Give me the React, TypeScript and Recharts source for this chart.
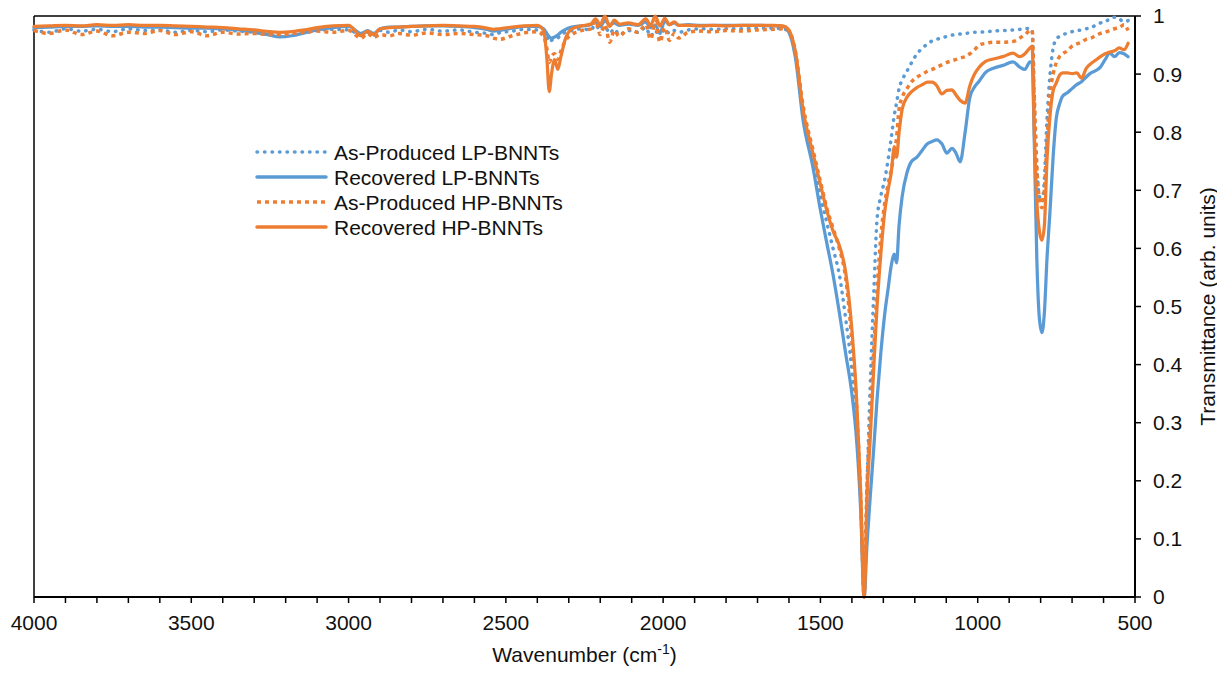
import { LineChart, Line, XAxis, YAxis, ReferenceLine, Legend, Label } from 'recharts'

// FTIR spectra, x in cm-1 (shared grid), y = transmittance (arb. units)
const wavenumbers = [
  4000, 3950, 3900, 3850, 3800, 3750, 3700, 3650, 3600, 3550,
  3500, 3450, 3400, 3350, 3300, 3250, 3220, 3180, 3140, 3100,
  3050, 3000, 2960, 2940, 2920, 2900, 2870, 2840, 2800, 2750,
  2700, 2650, 2600, 2560, 2540, 2520, 2480, 2440, 2400, 2380,
  2370, 2362, 2355, 2345, 2335, 2325, 2310, 2290, 2260, 2230,
  2215, 2200, 2185, 2170, 2155, 2140, 2110, 2080, 2055, 2040,
  2025, 2010, 1995, 1980, 1965, 1950, 1920, 1880, 1840, 1800,
  1750, 1700, 1650, 1620, 1603, 1580, 1555, 1524, 1500, 1480,
  1460, 1440, 1420, 1400, 1385, 1372, 1361, 1352, 1342, 1330,
  1320, 1308, 1295, 1285, 1275, 1265, 1258, 1250, 1240, 1225,
  1210, 1193, 1175, 1160, 1145, 1130, 1114, 1098, 1082, 1070,
  1056, 1040, 1025, 1010, 995, 975, 950, 920, 888, 866,
  850, 834, 827, 820, 812, 804, 796, 788, 780, 770,
  760, 750, 740, 730, 715, 700, 685, 670, 655, 640,
  625, 610, 595, 580, 565, 550, 535, 522,
]

const asProducedLP = [
  0.976, 0.972, 0.978, 0.974, 0.977, 0.973, 0.978, 0.975, 0.976, 0.972,
  0.975, 0.973, 0.976, 0.974, 0.972, 0.968, 0.966, 0.968, 0.971, 0.975,
  0.977, 0.976, 0.968, 0.972, 0.967, 0.975, 0.972, 0.976, 0.973, 0.977,
  0.974, 0.976, 0.972, 0.970, 0.968, 0.971, 0.974, 0.977, 0.976, 0.972,
  0.965, 0.955, 0.958, 0.960, 0.962, 0.968, 0.972, 0.975, 0.978, 0.976,
  0.985, 0.975, 0.982, 0.970, 0.978, 0.968, 0.975, 0.972, 0.980, 0.965,
  0.975, 0.962, 0.978, 0.970, 0.975, 0.972, 0.976, 0.978, 0.977, 0.978,
  0.978, 0.979, 0.979, 0.978, 0.974, 0.935, 0.835, 0.750, 0.690, 0.645,
  0.600, 0.555, 0.480, 0.390, 0.290, 0.160, 0.010, 0.190, 0.360, 0.530,
  0.650, 0.690, 0.720, 0.752, 0.790, 0.830, 0.850, 0.875, 0.890, 0.905,
  0.920, 0.935, 0.945, 0.952, 0.957, 0.960, 0.962, 0.965, 0.967, 0.968,
  0.969, 0.970, 0.971, 0.972, 0.972, 0.973, 0.974, 0.975, 0.976, 0.977,
  0.978, 0.979, 0.975, 0.850, 0.740, 0.690, 0.680, 0.720, 0.820, 0.900,
  0.945, 0.960, 0.965, 0.968, 0.970, 0.973, 0.975, 0.976, 0.978, 0.980,
  0.984, 0.988, 0.990, 0.995, 0.998, 0.995, 0.990, 0.992,
]

const recoveredLP = [
  0.980, 0.981, 0.982, 0.982, 0.983, 0.982, 0.982, 0.981, 0.981, 0.980,
  0.979, 0.979, 0.978, 0.976, 0.972, 0.967, 0.964, 0.966, 0.971, 0.976,
  0.980, 0.982, 0.970, 0.975, 0.970, 0.978, 0.981, 0.981, 0.982, 0.983,
  0.983, 0.982, 0.980, 0.977, 0.974, 0.975, 0.979, 0.982, 0.982, 0.978,
  0.970, 0.964, 0.962, 0.964, 0.967, 0.972, 0.977, 0.981, 0.983, 0.985,
  0.990, 0.982, 0.992, 0.985, 0.988, 0.984, 0.986, 0.984, 0.990, 0.980,
  0.984, 0.970, 0.992, 0.985, 0.988, 0.984, 0.985, 0.984, 0.984, 0.984,
  0.984, 0.984, 0.983, 0.982, 0.975, 0.930, 0.820, 0.740, 0.666, 0.610,
  0.555, 0.490, 0.420, 0.350, 0.270, 0.150, 0.000, 0.090, 0.170, 0.260,
  0.340, 0.420, 0.490, 0.530, 0.570, 0.590, 0.575, 0.640, 0.690, 0.730,
  0.750, 0.757, 0.770, 0.780, 0.784, 0.787, 0.780, 0.764, 0.772, 0.765,
  0.749, 0.800, 0.860, 0.878, 0.888, 0.903, 0.910, 0.915, 0.921, 0.912,
  0.908, 0.921, 0.920, 0.780, 0.580, 0.480, 0.455, 0.490, 0.580, 0.666,
  0.760, 0.825, 0.848, 0.862, 0.868, 0.875, 0.882, 0.887, 0.895, 0.902,
  0.906, 0.912, 0.925, 0.936, 0.930, 0.937, 0.935, 0.930,
]

const asProducedHP = [
  0.975, 0.970, 0.976, 0.968, 0.974, 0.966, 0.972, 0.970, 0.975, 0.968,
  0.973, 0.966, 0.972, 0.969, 0.970, 0.968, 0.968, 0.970, 0.972, 0.974,
  0.972, 0.975, 0.962, 0.970, 0.963, 0.968, 0.966, 0.970, 0.967, 0.971,
  0.968, 0.970, 0.968, 0.966, 0.962, 0.960, 0.966, 0.971, 0.973, 0.965,
  0.945, 0.920, 0.930, 0.935, 0.925, 0.940, 0.958, 0.968, 0.975, 0.978,
  0.992, 0.968, 0.985, 0.955, 0.975, 0.965, 0.978, 0.972, 0.985, 0.960,
  0.990, 0.955, 0.980, 0.958, 0.970, 0.962, 0.972, 0.974, 0.973, 0.975,
  0.974, 0.976, 0.977, 0.978, 0.976, 0.940, 0.845, 0.770, 0.715, 0.670,
  0.635, 0.600, 0.550, 0.440, 0.330, 0.170, 0.000, 0.190, 0.300, 0.430,
  0.530, 0.620, 0.680, 0.710, 0.735, 0.765, 0.790, 0.840, 0.860, 0.875,
  0.887, 0.895, 0.900, 0.905, 0.908, 0.912, 0.916, 0.920, 0.923, 0.925,
  0.928, 0.930, 0.935, 0.942, 0.950, 0.953, 0.955, 0.955, 0.956, 0.962,
  0.968, 0.975, 0.976, 0.860, 0.740, 0.685, 0.670, 0.700, 0.780, 0.865,
  0.900, 0.920, 0.930, 0.935, 0.940, 0.948, 0.952, 0.955, 0.960, 0.962,
  0.966, 0.970, 0.972, 0.975, 0.978, 0.980, 0.985, 0.975,
]

const recoveredHP = [
  0.982, 0.983, 0.984, 0.983, 0.985, 0.984, 0.985, 0.984, 0.984, 0.983,
  0.982, 0.981, 0.980, 0.978, 0.976, 0.973, 0.972, 0.973, 0.976, 0.980,
  0.983, 0.984, 0.966, 0.974, 0.968, 0.978, 0.980, 0.981, 0.982, 0.983,
  0.984, 0.983, 0.982, 0.979, 0.977, 0.978, 0.981, 0.983, 0.984, 0.975,
  0.930, 0.870, 0.900, 0.925, 0.908, 0.930, 0.962, 0.978, 0.983, 0.986,
  0.995, 0.985, 1.000, 0.982, 0.993, 0.986, 0.988, 0.985, 0.995, 0.984,
  1.000, 0.983, 0.996, 0.985, 0.990, 0.984, 0.984, 0.983, 0.984, 0.983,
  0.984, 0.984, 0.984, 0.983, 0.978, 0.940, 0.838, 0.764, 0.710, 0.666,
  0.630, 0.605, 0.560, 0.460, 0.340, 0.180, 0.000, 0.170, 0.270, 0.400,
  0.500, 0.590, 0.666, 0.700, 0.730, 0.775, 0.757, 0.800, 0.840, 0.860,
  0.870, 0.877, 0.882, 0.886, 0.886, 0.880, 0.866, 0.872, 0.873, 0.865,
  0.855, 0.850, 0.880, 0.900, 0.912, 0.922, 0.926, 0.930, 0.936, 0.930,
  0.935, 0.945, 0.948, 0.800, 0.680, 0.630, 0.614, 0.640, 0.750, 0.830,
  0.872, 0.885, 0.898, 0.902, 0.902, 0.901, 0.902, 0.893, 0.910, 0.918,
  0.924, 0.930, 0.935, 0.938, 0.940, 0.945, 0.942, 0.953,
]

const xTicks = [
  4000, 3900, 3800, 3700, 3600, 3500, 3400, 3300, 3200, 3100,
  3000, 2900, 2800, 2700, 2600, 2500, 2400, 2300, 2200, 2100,
  2000, 1900, 1800, 1700, 1600, 1500, 1400, 1300, 1200, 1100,
  1000, 900, 800, 700, 600, 500,
]
const yTicks = [0, 0.1, 0.2, 0.3, 0.4, 0.5, 0.6, 0.7, 0.8, 0.9, 1]

const BLUE = '#5B9BD5'
const ORANGE = '#ED7D31'
const FONT = '"Liberation Sans", Arial, sans-serif'
const INK = '#111'

const series = [
  { key: 'apLP', name: 'As-Produced LP-BNNTs', color: BLUE, dash: '0.5 7', cap: 'round' as const },
  { key: 'recLP', name: 'Recovered LP-BNNTs', color: BLUE, dash: undefined, cap: 'round' as const },
  { key: 'apHP', name: 'As-Produced HP-BNNTs', color: ORANGE, dash: '4 4', cap: 'butt' as const },
  { key: 'recHP', name: 'Recovered HP-BNNTs', color: ORANGE, dash: undefined, cap: 'round' as const },
]

const data = wavenumbers.map((wn, i) => ({
  wn,
  apLP: asProducedLP[i],
  recLP: recoveredLP[i],
  apHP: asProducedHP[i],
  recHP: recoveredHP[i],
}))

function LegendBox() {
  return (
    <svg width={340} height={105} style={{ display: 'block' }}>
      {series.map((s, i) => {
        const y = 13 + i * 25
        return (
          <g key={s.key}>
            <line
              x1={2}
              x2={71}
              y1={y}
              y2={y}
              stroke={s.color}
              strokeWidth={3.5}
              strokeDasharray={s.dash}
              strokeLinecap={s.cap}
            />
            <text x={79} y={y} dominantBaseline="central" fontSize={21} fontFamily={FONT} fill={INK}>
              {s.name}
            </text>
          </g>
        )
      })}
    </svg>
  )
}

function XTitle(props: any) {
  const vb = props.viewBox
  const cx = vb.x + vb.width / 2
  return (
    <text x={cx} y={vb.y + 65} textAnchor="middle" fontSize={21} fontFamily={FONT} fill={INK}>
      Wavenumber (cm
      <tspan dy={-8} fontSize={14}>-1</tspan>
      <tspan dy={8}>)</tspan>
    </text>
  )
}

function YTitle(props: any) {
  const vb = props.viewBox
  const cx = vb.x + 72
  const cy = vb.y + vb.height / 2
  return (
    <text
      x={cx}
      y={cy}
      transform={`rotate(-90 ${cx} ${cy})`}
      textAnchor="middle"
      dominantBaseline="central"
      fontSize={21}
      fontFamily={FONT}
      fill={INK}
    >
      Transmittance (arb. units)
    </text>
  )
}

export default function App() {
  // cancel the body margin so the svg covers the whole window
  return (
    <div style={{ width: 1225, height: 673, margin: '-8px 0 0 -8px', fontFamily: FONT }}>
      <LineChart
        width={1225}
        height={673}
        data={data}
        margin={{ top: 16, right: 0, bottom: 16, left: 34 }}
      >
        <XAxis
          dataKey="wn"
          type="number"
          domain={[500, 4000]}
          reversed
          ticks={xTicks}
          interval={0}
          tickFormatter={(v: number) => (v % 500 === 0 ? String(v) : '')}
          height={60}
          tickSize={6}
          tickMargin={12}
          axisLine={{ stroke: '#000', strokeWidth: 2 }}
          tickLine={{ stroke: '#000', strokeWidth: 1.5 }}
          tick={{ fill: INK, fontSize: 21, fontFamily: FONT }}
        >
          <Label content={XTitle} />
        </XAxis>
        <YAxis
          orientation="right"
          type="number"
          domain={[0, 1]}
          ticks={yTicks}
          interval={0}
          tickFormatter={(v: number) => String(v)}
          width={90}
          tickSize={6}
          tickMargin={12}
          axisLine={{ stroke: '#000', strokeWidth: 2 }}
          tickLine={{ stroke: '#000', strokeWidth: 1.5 }}
          tick={{ fill: INK, fontSize: 21, fontFamily: FONT }}
        >
          <Label content={YTitle} />
        </YAxis>
        <ReferenceLine y={1} stroke="#000" strokeWidth={1.5} />
        <ReferenceLine x={4000} stroke="#000" strokeWidth={1.5} />
        <Legend
          layout="vertical"
          align="center"
          verticalAlign="middle"
          content={LegendBox}
          wrapperStyle={{ left: 255, top: 139, width: 340, height: 105 }}
        />
        {series.map((s) => (
          <Line
            key={s.key}
            dataKey={s.key}
            name={s.name}
            type="monotone"
            stroke={s.color}
            strokeWidth={s.dash ? 3.5 : 3.25}
            strokeDasharray={s.dash}
            strokeLinecap={s.cap}
            dot={false}
            activeDot={false}
            isAnimationActive={false}
          />
        ))}
      </LineChart>
    </div>
  )
}
